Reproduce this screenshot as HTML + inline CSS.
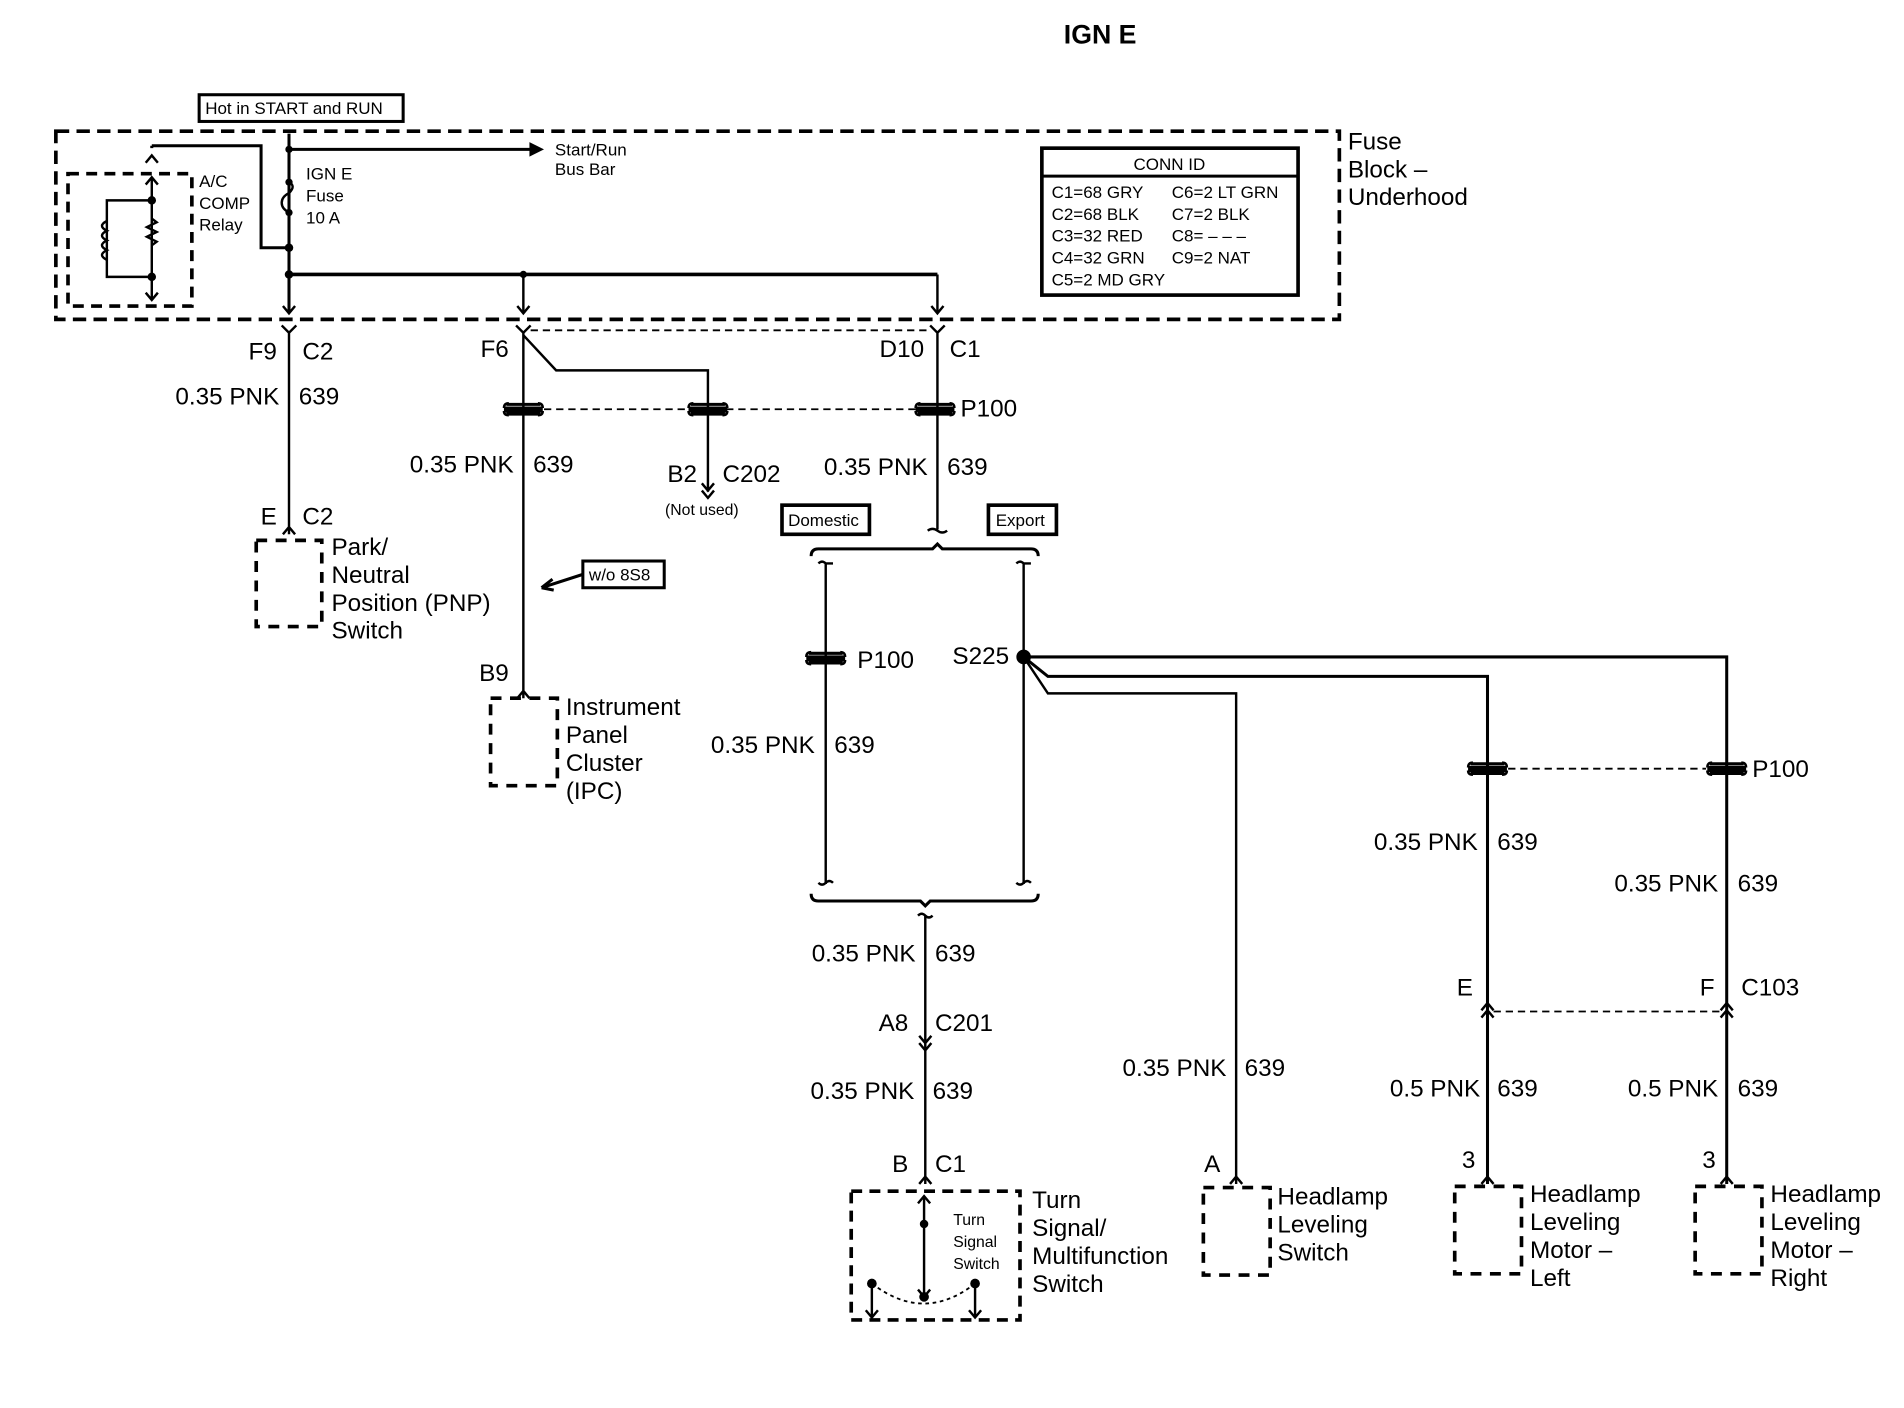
<!DOCTYPE html>
<html><head><meta charset="utf-8"><style>
html,body{margin:0;padding:0;background:#fff;}
svg{display:block;}
text{font-family:"Liberation Sans",sans-serif;fill:#000;}
.l{font-size:20px;}
.s{font-size:14px;}
.t{font-size:13px;}
</style></head><body>
<svg width="1904" height="1408" viewBox="0 0 1568 1159.5" xmlns="http://www.w3.org/2000/svg">
<defs>
<g id="ic"><path d="M-14,-4 L14,-4 M-14,4 L14,4 M-16,-1 L16,-1 M-16,1.5 L16,1.5" stroke="#000" stroke-width="2.5" fill="none"/><path d="M-16,-1 Q-16,-5 -12,-5 M16,-1 Q16,-5 12,-5 M-16,1.5 Q-16,5 -12,5 M16,1.5 Q16,5 12,5" stroke="#000" stroke-width="2" fill="none"/></g>
</defs>
<g fill="none" stroke="#000">
<rect x="46" y="108" width="1057" height="155" stroke-width="3" stroke-dasharray="11,6"/>
<rect x="164" y="78" width="168" height="22" stroke-width="2.5"/>
<rect x="858" y="122" width="211" height="121" stroke-width="3"/>
<line x1="858" y1="145" x2="1069" y2="145" stroke-width="2.5"/>
<rect x="56" y="143" width="102" height="109" stroke-width="3" stroke-dasharray="9,6"/>
<path d="M125,120 V122 M125,120 H215 V204 H238" stroke-width="2.5"/>
<path d="M120,134 L125,128 L130,134 M120,152 L125,146 L130,152" stroke-width="2"/>
<path d="M125,146 V247 M120,241 L125,247 L130,241" stroke-width="2"/>
<path d="M125,165 H88 V228 H125" stroke-width="2"/>
<path d="M88,182 q-8,4 0,8 q-8,4 0,8 q-8,4 0,8 q-8,4 0,8" stroke-width="2"/>
<path d="M125,180 l4,3 l-8,4 l8,4 l-8,4 l8,4 l-4,3" stroke-width="2"/>
<path d="M238,110 V172 M238,172 V258" stroke-width="2.5"/>
<path d="M238,150 q6,3 0,9 q-6,3 -6,8 q0,5 6,8" stroke-width="2"/>
<line x1="238" y1="123" x2="440" y2="123" stroke-width="2.5"/>
<line x1="238" y1="226" x2="772" y2="226" stroke-width="3"/>
<path d="M431,226 V258 M772,226 V258" stroke-width="2"/>
<path d="M233,252 L238,258 L243,252 M426,252 L431,258 L436,252 M767,252 L772,258 L777,252" stroke-width="2"/>
<path d="M232,268 L238,274 L244,268 M238,274 V440 M233,440 L238,434 L243,440" stroke-width="2"/>
<rect x="211" y="445" width="54" height="71" stroke-width="3" stroke-dasharray="9,7"/>
<path d="M425,268 L431,274 L437,268 M431,274 V575 M426,575 L431,569 L436,575" stroke-width="2"/>
<path d="M431,276 L458,305 H583 V405 M578,398 L583,404 L588,398 M578,404 L583,410 L588,404" stroke-width="2"/>
<line x1="437" y1="272" x2="766" y2="272" stroke-width="1.5" stroke-dasharray="6,4"/>
<line x1="448" y1="337" x2="754" y2="337" stroke-width="1.5" stroke-dasharray="6,4"/>
<rect x="404" y="575" width="55" height="72" stroke-width="3" stroke-dasharray="9,7"/>
<path d="M480,473 L446,484 M446,484 l9,-7 M446,484 l10,2" stroke-width="2.5"/>
<rect x="480" y="462" width="67" height="22" stroke-width="2.5"/>
<path d="M766,268 L772,274 L778,268 M772,274 V436 M764,437 q4,-3 8,0 q4,3 8,0" stroke-width="2"/>
<rect x="644" y="416" width="72" height="24" stroke-width="3"/>
<rect x="814" y="416" width="56" height="24" stroke-width="3"/>
<path d="M668,458 q0,-6 6,-6 H768 l4,-4 l4,4 H849 q6,0 6,6" stroke-width="2.5"/>
<path d="M674,464 q3,-3 6,0 H686 M680,464 V728 M837,464 q3,-3 6,0 H849 M843,464 V728" stroke-width="2"/>
<path d="M674,727 q3,3 6,0 q3,-3 6,0 M837,727 q3,3 6,0 q3,-3 6,0" stroke-width="2"/>
<path d="M668,736 q0,6 6,6 H758 l4,4 l4,-4 H849 q6,0 6,-6" stroke-width="2.5"/>
<path d="M756,754 q3,-3 6,0 q3,3 6,0 M762,754 V975" stroke-width="2"/>
<path d="M757,853 L762,859 L767,853 M757,859 L762,865 L767,859 M757,975 L762,969 L767,975" stroke-width="2"/>
<rect x="701" y="981" width="139" height="106" stroke-width="3" stroke-dasharray="9,6"/>
<path d="M761,985 V1068 M756,991 L761,985 L766,991 M756,1062 L761,1068 L766,1062" stroke-width="2"/>
<path d="M718,1057 V1085 M713,1079 L718,1085 L723,1079 M803,1057 V1085 M798,1079 L803,1085 L808,1079" stroke-width="2"/>
<path d="M718,1057 Q761,1090 803,1057" stroke-width="1.5" stroke-dasharray="3,3"/>
<path d="M843,541 H1422 V975" stroke-width="2.5"/>
<path d="M843,541 L863,557 H1225 V975" stroke-width="2.5"/>
<path d="M843,541 L863,571 H1018 V975" stroke-width="2"/>
<line x1="1242" y1="633" x2="1405" y2="633" stroke-width="1.5" stroke-dasharray="6,4"/>
<line x1="1230" y1="833" x2="1417" y2="833" stroke-width="1.5" stroke-dasharray="6,4"/>
<path d="M1220,832 L1225,826 L1230,832 M1220,838 L1225,832 L1230,838 M1417,832 L1422,826 L1427,832 M1417,838 L1422,832 L1427,838" stroke-width="2"/>
<path d="M1013,975 L1018,969 L1023,975 M1220,975 L1225,969 L1230,975 M1417,975 L1422,969 L1427,975" stroke-width="2"/>
<rect x="991" y="978" width="55" height="72" stroke-width="3" stroke-dasharray="9,7"/>
<rect x="1198" y="977" width="55" height="72" stroke-width="3" stroke-dasharray="9,7"/>
<rect x="1396" y="977" width="55" height="72" stroke-width="3" stroke-dasharray="9,7"/>
</g>
<g fill="#000">
<path d="M448,123 L436,117 L436,129 Z"/>
<circle cx="238" cy="123" r="3"/><circle cx="238" cy="204" r="3.5"/><circle cx="238" cy="226" r="3.5"/><circle cx="431" cy="226" r="3"/>
<circle cx="125" cy="165" r="3.5"/><circle cx="125" cy="228" r="3.5"/><circle cx="238" cy="150" r="3"/><circle cx="238" cy="175" r="3"/>
<circle cx="843" cy="541" r="6"/>
<circle cx="761" cy="1008" r="3.5"/><circle cx="718" cy="1057" r="4"/><circle cx="803" cy="1057" r="4"/><circle cx="761" cy="1068" r="4"/>
</g>
<use href="#ic" x="431" y="337"/><use href="#ic" x="583" y="337"/><use href="#ic" x="770" y="337"/>
<use href="#ic" x="680" y="542"/><use href="#ic" x="1225" y="633"/><use href="#ic" x="1422" y="633"/>
<text x="906" y="36" font-size="22" font-weight="bold" text-anchor="middle">IGN E</text>
<text class="s" x="169" y="94">Hot in START and RUN</text>
<text class="l" x="1110" y="123">Fuse</text><text class="l" x="1110" y="146">Block –</text><text class="l" x="1110" y="169">Underhood</text>
<text class="s" x="963" y="140" text-anchor="middle">CONN ID</text>
<g class="s"><text x="866" y="163">C1=68 GRY</text><text x="965" y="163">C6=2 LT GRN</text>
<text x="866" y="181">C2=68 BLK</text><text x="965" y="181">C7=2 BLK</text>
<text x="866" y="199">C3=32 RED</text><text x="965" y="199">C8= – – –</text>
<text x="866" y="217">C4=32 GRN</text><text x="965" y="217">C9=2 NAT</text>
<text x="866" y="235">C5=2 MD GRY</text>
<text x="457" y="128">Start/Run</text><text x="457" y="144">Bus Bar</text>
<text x="252" y="148">IGN E</text><text x="252" y="166">Fuse</text><text x="252" y="184">10 A</text>
<text x="164" y="154">A/C</text><text x="164" y="172">COMP</text><text x="164" y="190">Relay</text>
<text x="485" y="478">w/o 8S8</text>
<text x="649" y="433">Domestic</text><text x="820" y="433">Export</text></g>
<g class="l">
<text x="228" y="296" text-anchor="end">F9</text><text x="249" y="296">C2</text>
<text x="230" y="333" text-anchor="end">0.35 PNK</text><text x="246" y="333">639</text>
<text x="228" y="432" text-anchor="end">E</text><text x="249" y="432">C2</text>
<text x="273" y="457">Park/</text><text x="273" y="480">Neutral</text><text x="273" y="503">Position (PNP)</text><text x="273" y="526">Switch</text>
<text x="419" y="294" text-anchor="end">F6</text>
<text x="423" y="389" text-anchor="end">0.35 PNK</text><text x="439" y="389">639</text>
<text x="574" y="397" text-anchor="end">B2</text><text x="595" y="397">C202</text>
<text x="419" y="561" text-anchor="end">B9</text>
<text x="466" y="589">Instrument</text><text x="466" y="612">Panel</text><text x="466" y="635">Cluster</text><text x="466" y="658">(IPC)</text>
<text x="761" y="294" text-anchor="end">D10</text><text x="782" y="294">C1</text>
<text x="791" y="343">P100</text>
<text x="764" y="391" text-anchor="end">0.35 PNK</text><text x="780" y="391">639</text>
<text x="706" y="550">P100</text><text x="831" y="547" text-anchor="end">S225</text>
<text x="671" y="620" text-anchor="end">0.35 PNK</text><text x="687" y="620">639</text>
<text x="754" y="792" text-anchor="end">0.35 PNK</text><text x="770" y="792">639</text>
<text x="748" y="849" text-anchor="end">A8</text><text x="770" y="849">C201</text>
<text x="753" y="905" text-anchor="end">0.35 PNK</text><text x="768" y="905">639</text>
<text x="748" y="965" text-anchor="end">B</text><text x="770" y="965">C1</text>
<text x="850" y="995">Turn</text><text x="850" y="1018">Signal/</text><text x="850" y="1041">Multifunction</text><text x="850" y="1064">Switch</text>
<text x="1443" y="640">P100</text>
<text x="1217" y="700" text-anchor="end">0.35 PNK</text><text x="1233" y="700">639</text>
<text x="1415" y="734" text-anchor="end">0.35 PNK</text><text x="1431" y="734">639</text>
<text x="1213" y="820" text-anchor="end">E</text>
<text x="1412" y="820" text-anchor="end">F</text><text x="1434" y="820">C103</text>
<text x="1010" y="886" text-anchor="end">0.35 PNK</text><text x="1025" y="886">639</text>
<text x="1219" y="903" text-anchor="end">0.5 PNK</text><text x="1233" y="903">639</text>
<text x="1415" y="903" text-anchor="end">0.5 PNK</text><text x="1431" y="903">639</text>
<text x="1005" y="965" text-anchor="end">A</text>
<text x="1215" y="962" text-anchor="end">3</text><text x="1413" y="962" text-anchor="end">3</text>
<text x="1052" y="992">Headlamp</text><text x="1052" y="1015">Leveling</text><text x="1052" y="1038">Switch</text>
<text x="1260" y="990">Headlamp</text><text x="1260" y="1013">Leveling</text><text x="1260" y="1036">Motor –</text><text x="1260" y="1059">Left</text>
<text x="1458" y="990">Headlamp</text><text x="1458" y="1013">Leveling</text><text x="1458" y="1036">Motor –</text><text x="1458" y="1059">Right</text>
</g>
<text class="t" x="578" y="424" text-anchor="middle">(Not used)</text>
<text class="t" x="785" y="1009">Turn</text><text class="t" x="785" y="1027">Signal</text><text class="t" x="785" y="1045">Switch</text>
</svg>
</body></html>
